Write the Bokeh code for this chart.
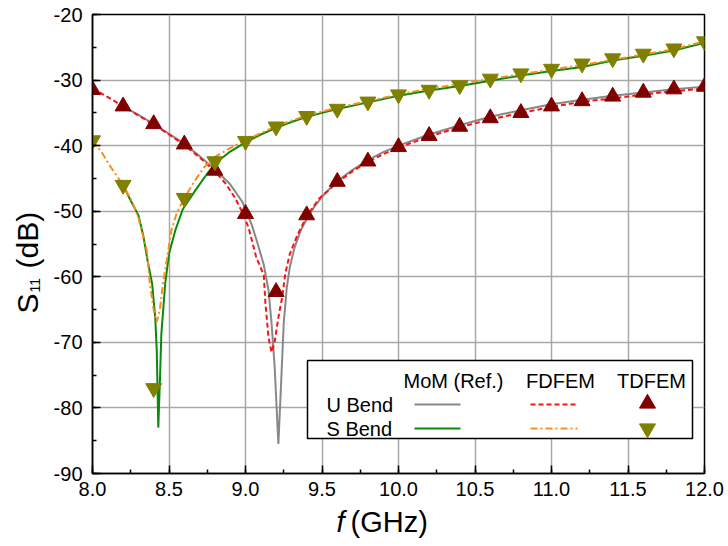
from math import pi
from bokeh.plotting import figure
from bokeh.models import Range1d, FixedTicker, PrintfTickFormatter, Label
from bokeh.embed import file_html
from bokeh.resources import INLINE

# ---------------- data ----------------
f_tdfem = [8.0, 8.2, 8.4, 8.6, 8.8, 9.0, 9.2, 9.4, 9.6, 9.8, 10.0,
           10.2, 10.4, 10.6, 10.8, 11.0, 11.2, 11.4, 11.6, 11.8, 12.0]
u_tdfem = [-31.5, -34.0, -36.7, -39.8, -43.8, -50.4, -62.3, -50.6, -45.5, -42.4, -40.2,
           -38.5, -37.1, -35.8, -35.0, -34.0, -33.2, -32.5, -31.9, -31.4, -31.0]
s_tdfem = [-39.2, -46.0, -77.0, -48.0, -42.4, -39.3, -37.1, -35.5, -34.4, -33.3, -32.2,
           -31.5, -30.8, -29.8, -29.0, -28.3, -27.5, -26.7, -26.0, -25.2, -24.1]

f_mom_u = [8.2, 8.3, 8.4, 8.5, 8.6, 8.7, 8.8, 8.9, 8.98, 9.04, 9.08, 9.12, 9.15, 9.17,
           9.19, 9.215, 9.235, 9.25, 9.27, 9.29, 9.32, 9.36, 9.40, 9.45, 9.5, 9.6, 9.7,
           9.8, 9.9, 10.0, 10.2, 10.4, 10.6, 10.8, 11.0, 11.2, 11.4, 11.6, 11.8, 12.0]
mom_u = [-34.0, -35.3, -36.7, -38.2, -39.7, -41.6, -43.6, -45.9, -48.6, -52.0, -55.0,
         -58.2, -62.0, -67.0, -73.5, -85.5, -75.0, -67.0, -61.6, -58.5, -55.6, -53.0,
         -51.2, -49.3, -47.8, -45.4, -43.7, -42.2, -41.0, -40.0, -38.3, -36.9, -35.6,
         -34.6, -33.7, -33.0, -32.4, -31.9, -31.4, -31.0]

f_fd_u = [8.0, 8.1, 8.2, 8.3, 8.4, 8.5, 8.6, 8.7, 8.8, 8.87, 8.93, 8.98, 9.02, 9.07,
          9.12, 9.13, 9.15, 9.17, 9.19, 9.215, 9.24, 9.26, 9.29, 9.34, 9.40, 9.48, 9.6,
          9.7, 9.8, 9.9, 10.0, 10.2, 10.4, 10.6, 10.8, 11.0, 11.2, 11.4, 11.6, 11.8, 12.0]
fd_u = [-31.3, -32.6, -34.0, -35.4, -36.8, -38.3, -39.9, -41.8, -43.9, -45.8, -47.9,
        -50.2, -52.5, -57.0, -59.8, -64.0, -69.2, -71.5, -70.0, -66.2, -63.1, -59.5,
        -56.5, -53.6, -50.8, -48.1, -45.6, -43.9, -42.5, -41.3, -40.3, -38.6, -37.2,
        -36.0, -35.0, -34.1, -33.3, -32.8, -32.2, -31.7, -31.3]

f_mom_s = [8.2, 8.25, 8.30, 8.33, 8.36, 8.39, 8.41, 8.42, 8.43, 8.44, 8.45, 8.475,
           8.50, 8.54, 8.59, 8.67, 8.755, 8.84, 8.9, 9.0, 9.1, 9.2, 9.3, 9.4, 9.5, 9.6,
           9.8, 10.0, 10.2, 10.4, 10.6, 10.8, 11.0, 11.2, 11.4, 11.6, 11.8, 12.0]
mom_s = [-46.0, -48.4, -50.6, -53.5, -57.5, -61.1, -66.2, -71.3, -83.0, -76.3, -68.7,
         -61.1, -56.5, -53.0, -49.7, -46.9, -44.1, -42.0, -40.9, -39.5, -38.3, -37.3,
         -36.4, -35.6, -35.0, -34.4, -33.4, -32.4, -31.6, -30.9, -30.1, -29.3, -28.6,
         -28.0, -27.0, -26.3, -25.5, -24.3]

f_fd_s = [8.0, 8.06, 8.12, 8.2, 8.26, 8.30, 8.33, 8.355, 8.375, 8.40, 8.42, 8.44, 8.46,
          8.485, 8.515, 8.55, 8.6, 8.67, 8.73, 8.8, 8.89, 9.0, 9.2, 9.4, 9.6, 9.8, 10.0,
          10.2, 10.4, 10.6, 10.8, 11.0, 11.2, 11.4, 11.6, 11.8, 12.0]
fd_s = [-39.2, -41.0, -43.3, -46.0, -48.6, -51.0, -53.8, -56.0, -61.1, -65.1, -66.9,
        -65.1, -61.1, -57.5, -53.0, -50.3, -48.0, -45.3, -43.3, -41.7, -40.5, -39.2,
        -37.0, -35.4, -34.2, -33.2, -32.2, -31.3, -30.6, -29.8, -29.1, -28.4, -27.7,
        -26.9, -26.1, -25.3, -24.1]

x_ticks = [8.0, 8.5, 9.0, 9.5, 10.0, 10.5, 11.0, 11.5, 12.0]
y_ticks = [-90, -80, -70, -60, -50, -40, -30, -20]

# ---------------- styles ----------------
FONT = "Liberation Sans"
C_MOM_U, C_MOM_S = "#888888", "#0a8a0a"
C_FD_U, C_FD_S = "#ff1010", "#ff8c1a"
C_TD_U, C_TD_S = "#800000", "#808000"
DASH_U, DASH_S = "5 3", "7 3 2 3"

W, H = 728, 546
L, R, T, B = 92, 24, 14, 73
X0, X1, Y0, Y1 = 8.0, 12.0, -90.0, -20.0

p = figure(width=W, height=H, output_backend="svg", toolbar_location=None, title=None,
           x_range=Range1d(X0, X1), y_range=Range1d(Y0, Y1),
           min_border_left=L, min_border_right=R, min_border_top=T, min_border_bottom=B)
p.background_fill_color = "white"
p.border_fill_color = "white"
p.outline_line_color = "black"
p.outline_line_width = 1.5


def fx(px):
    return X0 + (px - L) * (X1 - X0) / (W - L - R)


def fy(py):
    return Y1 - (py - T) * (Y1 - Y0) / (H - T - B)


# axes
p.xaxis.ticker = FixedTicker(ticks=x_ticks,
                             minor_ticks=[8 + 0.25 * i for i in range(17)])
p.yaxis.ticker = FixedTicker(ticks=y_ticks, minor_ticks=list(range(-90, -19, 5)))
p.xaxis.formatter = PrintfTickFormatter(format="%.1f")
p.yaxis.formatter = PrintfTickFormatter(format="%d")
for ax in (p.xaxis, p.yaxis):
    ax.major_tick_in = 8
    ax.major_tick_out = 0
    ax.minor_tick_in = 4
    ax.minor_tick_out = 0
    ax.axis_line_width = 1.5
    ax.major_tick_line_width = 1.5
    ax.minor_tick_line_width = 1.5
    ax.axis_line_color = "black"
    ax.major_tick_line_color = "black"
    ax.minor_tick_line_color = "black"
    ax.major_label_text_font = FONT
    ax.major_label_text_font_size = "20px"
    ax.major_label_text_color = "black"
p.xaxis.major_label_standoff = 8
p.yaxis.major_label_standoff = 10

p.grid.grid_line_color = "#a8a8a8"
p.grid.grid_line_width = 1.5

# data lines
p.line(f_mom_u, mom_u, line_color=C_MOM_U, line_width=2)
p.line(f_mom_s, mom_s, line_color=C_MOM_S, line_width=2)
p.line(f_fd_u, fd_u, line_color=C_FD_U, line_width=2, line_dash=DASH_U)
p.line(f_fd_s, fd_s, line_color=C_FD_S, line_width=2, line_dash=DASH_S)
p.scatter(f_tdfem, u_tdfem, marker="triangle", size=16, fill_color=C_TD_U,
          line_color=C_TD_U)
p.scatter(f_tdfem, s_tdfem, marker="inverted_triangle", size=16, fill_color=C_TD_S,
          line_color=C_TD_S)

# legend (table-style) built manually
p.quad(left=fx(307), right=fx(692), top=fy(360), bottom=fy(438),
       fill_color="white", line_color="black", line_width=1.5)


def label(txt, px, py, size="20px", align="left", angle=0.0, style="normal"):
    return Label(x=fx(px), y=fy(py), text=txt, text_align=align,
                 text_baseline="middle", text_font=FONT, text_font_size=size,
                 text_font_style=style, text_color="black", angle=angle)


for txt, cx in (("MoM (Ref.)", 453), ("FDFEM", 560), ("TDFEM", 651)):
    p.add_layout(label(txt, cx, 380, align="center"))
for txt, py in (("U Bend", 404), ("S Bend", 428)):
    p.add_layout(label(txt, 326, py))
p.line([fx(414), fx(460)], [fy(404)] * 2, line_color=C_MOM_U, line_width=2)
p.line([fx(414), fx(460)], [fy(428)] * 2, line_color=C_MOM_S, line_width=2)
p.line([fx(530), fx(577)], [fy(404)] * 2, line_color=C_FD_U, line_width=2,
       line_dash=DASH_U)
p.line([fx(530), fx(577)], [fy(428)] * 2, line_color=C_FD_S, line_width=2,
       line_dash=DASH_S)
p.scatter([fx(647)], [fy(403)], marker="triangle", size=16, fill_color=C_TD_U,
          line_color=C_TD_U)
p.scatter([fx(647)], [fy(428)], marker="inverted_triangle", size=16,
          fill_color=C_TD_S, line_color=C_TD_S)

# axis titles: placed in side panels (not clipped by the frame), spread over the
# panels so that the frame keeps its size
NB = "\u00a0"
p.add_layout(label("(GHz)", 350, 521, size="29px"), "below")
p.add_layout(label("f", 336, 521, size="29px", style="italic"), "right")
p.add_layout(label("S" + NB * 3 + "(dB)", 27, 313, size="30px", angle=pi / 2),
             "left")
p.add_layout(label("11", 34, 292, size="14px", angle=pi / 2), "left")

open("out.html", "w").write(file_html(p, INLINE))
